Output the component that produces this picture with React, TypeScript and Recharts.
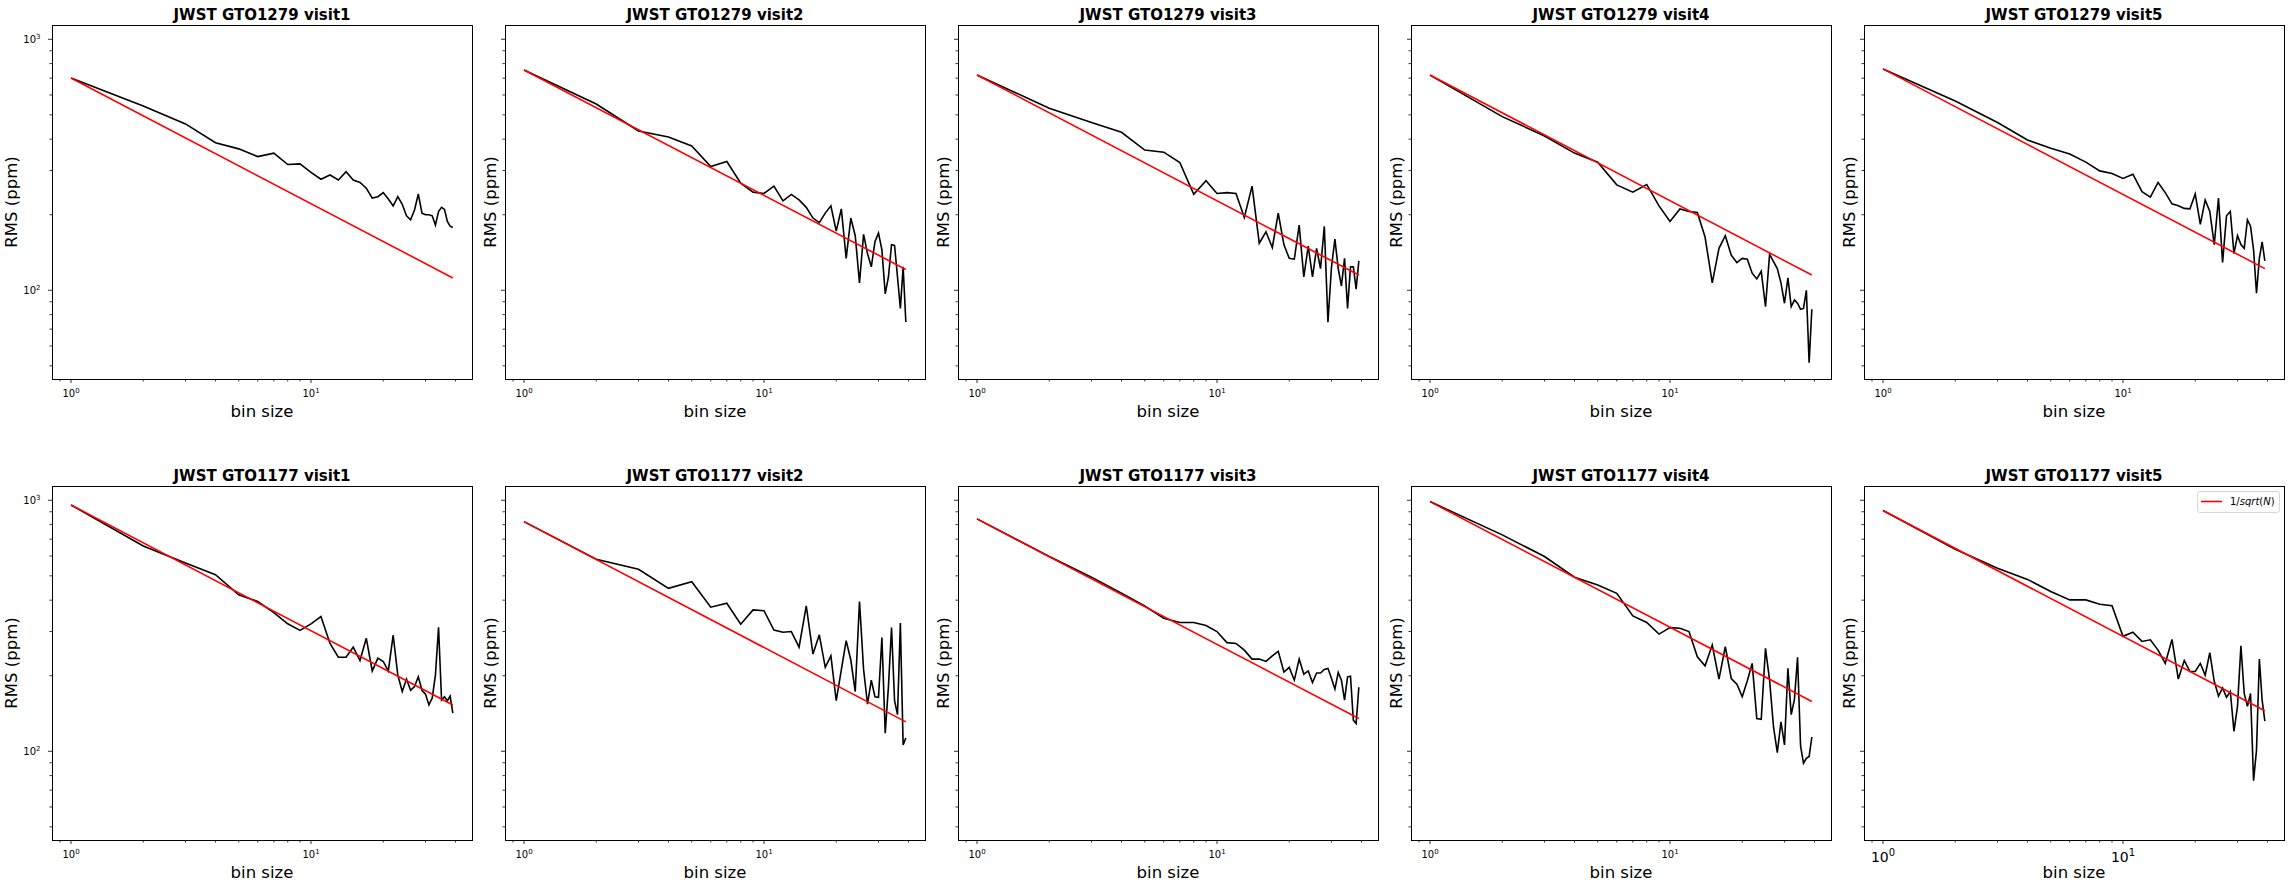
import { LineChart, Line, XAxis, YAxis } from "recharts";

const binSizes = [1, 2, 3, 4, 5, 6, 7, 8, 9, 10, 11, 12, 13, 14, 15, 16, 17, 18, 19, 20, 21, 22, 23, 24, 25, 26, 27, 28, 29, 30, 31, 32, 33, 34, 35, 36, 37, 38, 39];

const gto1279Visit1 = [701, 542, 460, 387, 366, 341, 352, 317, 319, 295, 277, 288, 275, 297, 275, 269, 255, 233, 236, 245, 231, 217, 236, 220, 198, 191, 209, 242, 203, 200, 200, 198, 182, 206, 214, 210, 188, 180, 178];
const gto1279Visit2 = [755, 552, 431, 408, 376, 311, 326, 267, 246, 243, 260, 227, 241, 229, 214, 194, 186, 203, 217, 172, 211, 134, 194, 165, 107, 167, 140, 124, 156, 169, 145, 96.7, 113, 152, 151, 113, 84.7, 124, 74.8];
const gto1279Visit3 = [721, 531, 466, 426, 362, 355, 323, 241, 273, 243, 245, 243, 195, 260, 154, 171, 148, 203, 152, 134, 133, 182, 113, 150, 113, 147, 122, 180, 74.6, 124, 160, 122, 104, 134, 84.7, 124, 124, 101, 131];
const gto1279Visit4 = [720, 492, 412, 352, 324, 263, 246, 264, 217, 188, 211, 206, 204, 163, 107, 147, 165, 138, 129, 134, 133, 117, 111, 119, 86, 139, 130, 122, 107, 88.8, 112, 86, 91.5, 88.8, 84, 84.7, 100, 51.5, 84];
const gto1279Visit5 = [762, 568, 466, 397, 368, 349, 324, 299, 292, 279, 290, 247, 235, 269, 245, 221, 217, 212, 211, 242, 183, 229, 206, 152, 233, 129, 198, 206, 140, 165, 152, 147, 191, 180, 145, 97.3, 134, 156, 131];

const gto1177Visit1 = [958, 658, 563, 505, 420, 395, 357, 322, 303, 322, 344, 269, 237, 237, 260, 230, 282, 209, 235, 228, 209, 290, 201, 173, 194, 175, 181, 198, 175, 169, 153, 163, 201, 312, 160, 165, 159, 166, 142];
const gto1177Visit2 = [822, 582, 531, 446, 474, 375, 389, 321, 366, 363, 304, 298, 300, 260, 380, 244, 291, 216, 240, 159, 211, 276, 231, 173, 395, 212, 154, 192, 165, 164, 284, 118, 181, 311, 159, 140, 324, 106, 113];
const gto1177Visit3 = [843, 597, 494, 426, 379, 339, 326, 326, 317, 300, 271, 269, 253, 233, 233, 228, 240, 250, 207, 216, 192, 233, 203, 209, 188, 205, 205, 212, 214, 195, 177, 206, 192, 160, 198, 199, 133, 129, 180];
const gto1177Visit4 = [988, 728, 597, 494, 460, 426, 346, 326, 293, 311, 309, 300, 238, 219, 265, 194, 261, 195, 185, 165, 191, 224, 135, 134, 257, 192, 125, 98.8, 131, 106, 214, 140, 161, 237, 105, 89.6, 93.7, 95.3, 114];
const gto1177Visit5 = [910, 638, 536, 484, 433, 401, 401, 385, 380, 287, 298, 274, 278, 253, 224, 279, 194, 230, 208, 208, 224, 201, 247, 190, 166, 179, 164, 173, 120, 151, 263, 170, 151, 170, 76.4, 101, 233, 160, 132];

// 1/sqrt(N) reference: value at the first and last bin size
const refBins = [1, 39];
const ref1279 = [[701, 112], [755, 121], [721, 115], [721, 115], [762, 122]];
const ref1177 = [[958, 153], [822, 131], [843, 135], [988, 158], [910, 145]];

const titles1279 = ["JWST GTO1279 visit1", "JWST GTO1279 visit2", "JWST GTO1279 visit3", "JWST GTO1279 visit4", "JWST GTO1279 visit5"];
const titles1177 = ["JWST GTO1177 visit1", "JWST GTO1177 visit2", "JWST GTO1177 visit3", "JWST GTO1177 visit4", "JWST GTO1177 visit5"];

const xTicks = [0.9, 1, 2, 3, 4, 5, 6, 7, 8, 9, 10, 20, 30, 40];
const yTicks = [50, 60, 70, 80, 90, 100, 200, 300, 400, 500, 600, 700, 800, 900, 1000];

const W = 2291;
const H = 892;
const FW = 420;
const FH = 354;
const ML = 52;
const MT = 25;
const MR = 6;
const XH = 45;
const colLeft = [52, 505, 958, 1411, 1864];
const rowTop = [25, 486];
const FONT = "DejaVu Sans, sans-serif";

const makeXTick = (big: boolean) => (props: any) => {
  const { x, payload } = props;
  const v = payload.value;
  const major = v === 1 || v === 10;
  const y0 = MT + FH;
  return (
    <g>
      <line x1={x} x2={x} y1={y0} y2={y0 + (major ? 4 : 2.5)} stroke="#000" strokeWidth={0.8} />
      {major && (
        <text x={x} y={y0 + (big ? 21.5 : 18)} textAnchor="middle" fontSize={big ? 14 : 10} fontFamily={FONT} fill="#000">
          10
          <tspan dy={big ? -6 : -4} fontSize={big ? 10 : 7}>
            {v === 1 ? "0" : "1"}
          </tspan>
        </text>
      )}
    </g>
  );
};

const makeYTick = (labels: boolean) => (props: any) => {
  const { y, payload } = props;
  const v = payload.value;
  const major = v === 100 || v === 1000;
  return (
    <g>
      <line x1={ML - (major ? 4 : 2.5)} x2={ML} y1={y} y2={y} stroke="#000" strokeWidth={0.8} />
      {labels && major && (
        <text x={ML - 11.5} y={y + 3.7} textAnchor="end" fontSize={10} fontFamily={FONT} fill="#000">
          10
          <tspan dy={-4} fontSize={7}>
            {v === 100 ? "2" : "3"}
          </tspan>
        </text>
      )}
    </g>
  );
};

interface PanelProps {
  values: number[];
  ref2: number[];
  col: number;
  row: number;
  big: boolean;
}

const Panel = ({ values, ref2, col, row, big }: PanelProps) => {
  const rms = binSizes.map((n, i) => ({ n, v: values[i] }));
  const fit = refBins.map((n, i) => ({ n, v: ref2[i] }));
  return (
    <div style={{ position: "absolute", left: colLeft[col] - ML, top: rowTop[row] - MT }}>
      <LineChart width={ML + FW + MR} height={MT + FH + XH} margin={{ top: MT, right: MR, bottom: 0, left: 0 }}>
        <XAxis
          type="number"
          dataKey="n"
          scale="log"
          domain={[0.8333, 46.87]}
          allowDataOverflow
          ticks={xTicks}
          interval={0}
          tick={makeXTick(big)}
          tickLine={false}
          axisLine={false}
          height={XH}
        />
        <YAxis
          type="number"
          dataKey="v"
          scale="log"
          domain={[44.32, 1140]}
          allowDataOverflow
          ticks={yTicks}
          interval={0}
          tick={makeYTick(col === 0)}
          tickLine={false}
          axisLine={false}
          width={ML}
        />
        <Line data={rms} dataKey="v" type="linear" stroke="#000" strokeWidth={1.6} dot={false} isAnimationActive={false} />
        <Line data={fit} dataKey="v" type="linear" stroke="#ff0000" strokeWidth={1.6} dot={false} isAnimationActive={false} />
      </LineChart>
    </div>
  );
};

const rows = [
  { series: [gto1279Visit1, gto1279Visit2, gto1279Visit3, gto1279Visit4, gto1279Visit5], refs: ref1279, titles: titles1279 },
  { series: [gto1177Visit1, gto1177Visit2, gto1177Visit3, gto1177Visit4, gto1177Visit5], refs: ref1177, titles: titles1177 },
];

const App = () => {
  return (
    <div style={{ position: "absolute", left: 0, top: 0, width: W, height: H, background: "#fff", overflow: "hidden", fontFamily: FONT }}>
      {rows.map((r, ri) =>
        r.series.map((s, ci) => (
          <Panel key={`${ri}-${ci}`} values={s} ref2={r.refs[ci]} col={ci} row={ri} big={ri === 1 && ci === 4} />
        ))
      )}
      <svg width={W} height={H} style={{ position: "absolute", left: 0, top: 0, pointerEvents: "none" }}>
        {rows.map((r, ri) =>
          r.titles.map((t, ci) => {
            const x0 = colLeft[ci];
            const y0 = rowTop[ri];
            // no tick labels on the shared y axes, so the label sits close to the frame
            const lx = ci === 0 ? x0 - 35 : x0 - 9;
            return (
              <g key={t}>
                <rect x={x0 + 0.5} y={y0 + 0.5} width={FW} height={FH} fill="none" stroke="#000" strokeWidth={1} />
                <text x={x0 + FW / 2} y={y0 - 5} textAnchor="middle" fontSize={15} fontWeight="bold" fontFamily={FONT}>
                  {t}
                </text>
                <text x={x0 + FW / 2} y={y0 + FH + 38} textAnchor="middle" fontSize={16.5} fontFamily={FONT}>
                  bin size
                </text>
                <text
                  x={lx}
                  y={y0 + FH / 2}
                  textAnchor="middle"
                  fontSize={16.5}
                  fontFamily={FONT}
                  transform={`rotate(-90 ${lx} ${y0 + FH / 2})`}
                >
                  RMS (ppm)
                </text>
              </g>
            );
          })
        )}
        <g>
          <rect x={2197.5} y={491.5} width={82} height={21} rx={2.5} fill="#fff" fillOpacity={0.8} stroke="#d6d6d6" strokeWidth={1} />
          <line x1={2201} x2={2222} y1={501.5} y2={501.5} stroke="#ff0000" strokeWidth={1.6} />
          <text x={2230} y={505} fontSize={10} fontFamily={FONT}>
            1/<tspan fontStyle="italic">sqrt</tspan>(<tspan fontStyle="italic">N</tspan>)
          </text>
        </g>
      </svg>
    </div>
  );
};

export default App;
